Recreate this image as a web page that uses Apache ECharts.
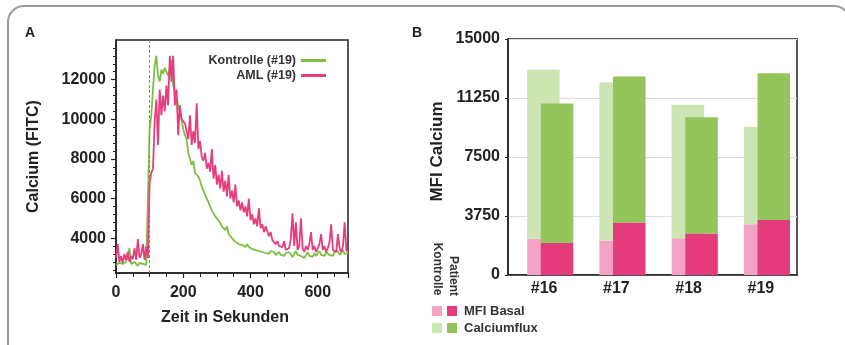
<!DOCTYPE html>
<html>
<head>
<meta charset="utf-8">
<script src="https://cdn.jsdelivr.net/npm/echarts@6/dist/echarts.min.js"></script>
<style>
html,body{margin:0;padding:0;background:#fff;}
#c{width:845px;height:345px;}
</style>
</head>
<body>
<div id="c"></div>
<script>
// ---------- Panel A data (time series, one value every 5 s from 0 to 690 s) ----------
const sampleStep = 5;
const kontrolle19 = [
2650,2600,2750,2650,2700,2600,2800,3000,3500,2700,
2650,2800,2700,2600,2750,2650,2700,2800,2650,2700,
9500,10200,11550,12700,13200,12200,11900,12500,12300,12600,
12400,12200,12500,13000,11700,11400,11200,10700,10400,10000,
9500,9200,9000,8300,8200,7700,7900,7300,7400,7100,
6900,6600,6700,6200,6300,5800,5900,5400,5500,5100,
5200,4900,5000,4600,4700,4400,4600,4200,4300,4000,
4100,3800,3900,3700,3800,3650,3750,3550,3700,3550,
3600,3450,3550,3400,3500,3350,3450,3300,3400,3250,
3350,3200,3350,3250,3300,3150,3250,3300,3150,3200,
3100,3250,3150,3300,3200,3050,3200,3350,3150,3250,
3100,3200,3000,3150,3300,3100,3200,3050,3250,3100,
3200,3350,3150,3250,3100,3300,3200,3150,3250,3100,
3300,3200,3350,3150,3250,3400,3200,3300,3250
];
const aml19 = [
3000,3700,2800,3100,2750,3200,2900,3300,2800,3100,
2950,3500,2900,3950,3000,3200,3700,2900,3600,3000,
6800,7300,7500,9900,11000,8700,11500,10200,11200,10400,
11700,10700,13200,11900,13200,10700,11500,9200,10700,10000,
10100,9800,9900,9000,10200,8700,9400,8800,10800,8500,
8900,8100,7900,8300,7500,7800,7350,8500,7000,7700,
6700,7200,6500,7400,6350,6900,6100,7200,6000,6400,
5800,6700,5600,5900,5400,5800,5300,5600,5100,6000,
4900,5200,4700,5000,4600,5500,4500,4700,4300,4600,
4500,4100,4300,3900,4000,3700,3850,3600,3700,3550,
3850,3400,3350,3500,4000,5250,3600,4800,3400,3600,
5000,3500,3300,3600,3400,3700,4300,3400,3600,3300,
3500,3700,4200,3400,3600,3300,3500,3800,4700,3400,
3500,3300,4200,3500,3300,3600,4800,3400,3300
];
const stimulusTime = 100;
const xTicksA = [0, 200, 400, 600];
const yTicksA = [4000, 6000, 8000, 10000, 12000];

// ---------- Panel B data ----------
const patients = ['#16', '#17', '#18', '#19'];
const kontrolleBasal = [2300, 2190, 2340, 3230];
const kontrolleFlux  = [10740, 10060, 8480, 6200];
const patientBasal   = [2040, 3330, 2630, 3500];
const patientFlux    = [8860, 9280, 7390, 9320];

// ---------- colours ----------
const cGreen = '#7dbf45', cPink = '#e63d7d';
const cLightPink = '#f3a3c3', cDarkPink = '#e43c7b';
const cLightGreen = '#cde4b3', cDarkGreen = '#94c45c';
const ink = '#222';
const FONT = '"Liberation Sans", Arial, sans-serif';

const times = kontrolle19.map((_, i) => i * sampleStep);
const minorTicksA = [];
for (let v = 2400; v <= 13600; v += 400) minorTicksA.push(v);

const chart = echarts.init(document.getElementById('c'), null, {renderer: 'canvas'});

const bold = (size, extra) => Object.assign({fontFamily: FONT, fontWeight: 'bold', fontSize: size, color: ink}, extra || {});
const plain = v => String(v);

const barCommon = {type: 'bar', xAxisIndex: 1, yAxisIndex: 2, barWidth: 32.5, barGap: '-58%'};

const option = {
  animation: false,
  backgroundColor: '#fff',
  grid: [
    {left: 116, top: 40, width: 232, height: 233, show: true, borderColor: ink, borderWidth: 1.5, backgroundColor: 'transparent'},
    {left: 508, top: 39, width: 289, height: 236, show: true, borderColor: ink, borderWidth: 1.5, backgroundColor: 'transparent'}
  ],
  legend: {
    data: ['Kontrolle (#19)', 'AML (#19)'],
    right: 514, top: 49, orient: 'vertical', align: 'right',
    itemWidth: 25, itemHeight: 3, itemGap: 2, icon: 'rect',
    textStyle: bold(12.5, {color: '#333'})
  },
  xAxis: [
    {
      gridIndex: 0, type: 'value', min: 0, max: 690, interval: 200,
      axisLine: {show: true, lineStyle: {color: ink, width: 1.5}},
      axisTick: {show: true, length: 5, lineStyle: {color: ink, width: 1.2}},
      minorTick: {show: true, splitNumber: 4, length: 4, lineStyle: {color: ink, width: 1}},
      splitLine: {show: false},
      axisLabel: Object.assign(bold(16), {margin: 12, customValues: xTicksA, formatter: plain}),
      name: 'Zeit in Sekunden', nameLocation: 'middle', nameGap: 37,
      nameTextStyle: bold(16, {padding: [0, 14, 0, 0]})
    },
    {
      gridIndex: 1, type: 'category', data: patients, boundaryGap: true,
      axisLine: {show: true, lineStyle: {color: ink, width: 1.5}},
      axisTick: {show: false},
      splitLine: {show: false},
      axisLabel: Object.assign(bold(16), {margin: 6})
    }
  ],
  yAxis: [
    {
      gridIndex: 0, type: 'value', min: 2240, max: 14000, position: 'left',
      axisLine: {show: true, lineStyle: {color: ink, width: 1.5}},
      axisTick: {show: true, length: 5, customValues: yTicksA, lineStyle: {color: ink, width: 1.2}},
      splitLine: {show: false},
      axisLabel: Object.assign(bold(16), {margin: 10, customValues: yTicksA, formatter: plain}),
      name: 'Calcium (FITC)', nameLocation: 'middle', nameGap: 74, nameRotate: 90,
      nameTextStyle: bold(16)
    },
    {
      gridIndex: 0, type: 'value', min: 2240, max: 14000, position: 'left',
      axisLine: {show: false},
      axisTick: {show: true, length: 3, customValues: minorTicksA, lineStyle: {color: ink, width: 1}},
      axisLabel: {show: false},
      splitLine: {show: false}
    },
    {
      gridIndex: 1, type: 'value', min: 0, max: 15000, interval: 3750, position: 'left',
      axisLine: {show: true, lineStyle: {color: ink, width: 1.5}},
      axisTick: {show: true, length: 3, lineStyle: {color: ink, width: 1}},
      splitLine: {show: true, lineStyle: {color: '#dcdcdc', width: 1}},
      axisLabel: Object.assign(bold(16), {margin: 8, formatter: plain}),
      name: 'MFI Calcium', nameLocation: 'middle', nameGap: 62, nameRotate: 90,
      nameTextStyle: bold(17, {padding: [0, 0, 0, 11]})
    }
  ],
  series: [
    {
      name: 'Kontrolle (#19)', type: 'line', xAxisIndex: 0, yAxisIndex: 0,
      data: times.map((t, i) => [t, kontrolle19[i]]),
      showSymbol: false, symbol: 'none',
      lineStyle: {color: cGreen, width: 1.8}, itemStyle: {color: cGreen},
      markLine: {
        silent: true, symbol: 'none', label: {show: false},
        lineStyle: {color: '#888', type: [3, 2], width: 1},
        data: [{xAxis: stimulusTime}]
      },
      z: 2
    },
    {
      name: 'AML (#19)', type: 'line', xAxisIndex: 0, yAxisIndex: 0,
      data: times.map((t, i) => [t, aml19[i]]),
      showSymbol: false, symbol: 'none',
      lineStyle: {color: cPink, width: 1.8}, itemStyle: {color: cPink},
      z: 3
    },
    // invisible spacer stack: shifts the Kontrolle/Patient bar pair right of the band centre
    Object.assign({}, barCommon, {name: 'spacer', stack: 'spacer', barWidth: 29, data: patients.map(() => '-'), itemStyle: {color: 'transparent'}, silent: true}),
    Object.assign({}, barCommon, {name: 'Kontrolle MFI Basal', stack: 'K', data: kontrolleBasal, itemStyle: {color: cLightPink}}),
    Object.assign({}, barCommon, {name: 'Kontrolle Calciumflux', stack: 'K', data: kontrolleFlux, itemStyle: {color: cLightGreen}}),
    Object.assign({}, barCommon, {name: 'Patient MFI Basal', stack: 'P', data: patientBasal, itemStyle: {color: cDarkPink}}),
    Object.assign({}, barCommon, {name: 'Patient Calciumflux', stack: 'P', data: patientFlux, itemStyle: {color: cDarkGreen}})
  ],
  graphic: [
    {type: 'rect', shape: {x: 8, y: 6, width: 842, height: 420, r: 16}, style: {fill: 'none', stroke: '#9a9a9a', lineWidth: 2}, silent: true, z: -1},
    {type: 'text', x: 30, y: 33, style: {text: 'A', align: 'center', verticalAlign: 'middle', font: 'bold 14px ' + FONT, fill: ink}},
    {type: 'text', x: 417, y: 33, style: {text: 'B', align: 'center', verticalAlign: 'middle', font: 'bold 14px ' + FONT, fill: ink}},
    {type: 'text', x: 437, y: 269, rotation: -Math.PI / 2, style: {text: 'Kontrolle', align: 'center', verticalAlign: 'middle', font: 'bold 12px ' + FONT, fill: '#333'}},
    {type: 'text', x: 453, y: 276, rotation: -Math.PI / 2, style: {text: 'Patient', align: 'center', verticalAlign: 'middle', font: 'bold 12px ' + FONT, fill: '#333'}},
    {type: 'rect', shape: {x: 432, y: 306, width: 10, height: 10}, style: {fill: cLightPink}},
    {type: 'rect', shape: {x: 447, y: 306, width: 10, height: 10}, style: {fill: cDarkPink}},
    {type: 'rect', shape: {x: 432, y: 323, width: 10, height: 10}, style: {fill: cLightGreen}},
    {type: 'rect', shape: {x: 447, y: 323, width: 10, height: 10}, style: {fill: cDarkGreen}},
    {type: 'text', x: 464, y: 311, style: {text: 'MFI Basal', align: 'left', verticalAlign: 'middle', font: 'bold 13px ' + FONT, fill: '#333'}},
    {type: 'text', x: 464, y: 328, style: {text: 'Calciumflux', align: 'left', verticalAlign: 'middle', font: 'bold 13px ' + FONT, fill: '#333'}}
  ]
};
chart.setOption(option);
</script>
</body>
</html>
